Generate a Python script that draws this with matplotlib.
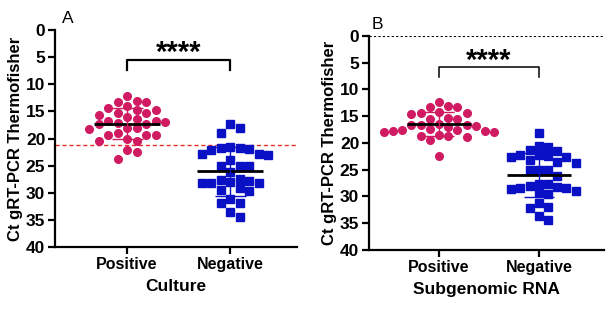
import numpy as np
from matplotlib import pyplot as plt

plt.rcParams['font.family'] = ['Liberation Sans', 'DejaVu Sans']

groups = ["Positive", "Negative"]

# Panel A: Culture
a_positive = [12.2, 13.0, 13.3, 13.3, 14.0, 14.4, 14.7, 14.7, 15.3, 15.3, 15.6, 16.1,
              16.4, 16.7, 16.7, 16.9, 17.2, 17.3, 17.3, 18.0, 18.1, 18.3, 18.9, 19.3,
              19.4, 19.4, 20.0, 20.5, 20.5, 22.1, 22.5, 23.7]
a_negative = [17.3, 18.1, 18.9, 21.5, 21.7, 21.8, 22.0, 22.1, 22.8, 22.8, 23.0, 23.9,
              25.0, 25.0, 25.1, 26.2, 27.5, 27.6, 27.8, 28.0, 28.1, 28.1, 28.2, 29.2,
              29.4, 29.6, 31.1, 31.8, 31.9, 33.5, 34.5]
a_mean = [17.3, 26.0]
a_sd_low = [14.4, 21.5]
a_sd_high = [20.0, 30.5]
a_cutoff = 21.2

# Panel B: Subgenomic RNA
b_positive = [12.3, 13.1, 13.3, 13.3, 14.2, 14.4, 14.4, 14.6, 15.3, 15.5, 15.6, 16.4,
              16.6, 16.6, 16.7, 16.8, 17.0, 17.4, 17.6, 17.6, 17.7, 17.8, 17.9, 18.0,
              18.5, 18.7, 18.8, 18.9, 19.4, 22.4]
b_negative = [18.2, 20.6, 20.7, 21.4, 21.6, 22.2, 22.3, 22.5, 22.6, 22.7, 23.2, 23.5,
              23.8, 25.0, 25.1, 25.1, 26.2, 27.6, 27.7, 28.0, 28.3, 28.5, 28.5, 28.7,
              29.0, 29.4, 29.6, 31.2, 31.9, 32.2, 33.7, 34.4]
b_mean = [16.5, 26.0]
b_sd_low = [14.3, 21.8]
b_sd_high = [18.8, 30.2]

pink = '#d01a62'
blue = '#0a10c4'


def swarm(values, px_per_y, px_per_x, dx, dy):
	# grid-like scatter: a point may share a column only if far enough apart vertically
	order = np.argsort(values)
	placed = []
	offsets = np.zeros(len(values))
	for i in order:
		y = values[i] * px_per_y
		for k in [0, 1, -1, 2, -2, 3, -3, 4, -4, 5, -5, 6, -6]:
			if all(k != pk or abs(y - py) >= dy for pk, py in placed):
				break
		placed.append((k, y))
		offsets[i] = k * dx / px_per_x
	return offsets


def panel(ax, pos, neg, mean, sd_low, sd_high, xlabel, letter, letter_x):
	ax.set_xlim(-0.7, 1.65)
	ax.set_ylim(40, 0)
	px_y = 5.43
	px_x = 102
	for gi, (vals, col, mk) in enumerate([(pos, pink, 'o'), (neg, blue, 's')]):
		vals = np.array(vals)
		off = swarm(vals, px_y, px_x, 9.4, 9.0)
		ax.plot(gi + off, vals, mk, color=col, ms=5.5 if mk == 'o' else 5.1,
				mec=col, zorder=3, clip_on=False)
		ax.hlines(mean[gi], gi - 0.32, gi + 0.32, color='black', lw=2, zorder=4)
		ax.vlines(gi, sd_low[gi], sd_high[gi], color=col, lw=1, zorder=4)
		ax.hlines([sd_low[gi], sd_high[gi]], gi - 0.15, gi + 0.15, color=col, lw=1, zorder=4)
	ax.set_yticks(np.arange(0, 41, 5))
	ax.set_xticks([0, 1])
	ax.set_xticklabels(groups, fontsize=11.5, fontweight='bold')
	for lab in ax.get_yticklabels():
		lab.set_fontsize(12.5)
		lab.set_fontweight('bold')
	ax.set_xlabel(xlabel, fontsize=12.5, fontweight='bold', labelpad=5)
	ax.set_ylabel("Ct gRT-PCR Thermofisher", fontsize=12, fontweight='bold', labelpad=2)
	for s in ['top', 'right']:
		ax.spines[s].set_visible(False)
	for s in ['left', 'bottom']:
		ax.spines[s].set_linewidth(1.6)
	ax.tick_params(width=1.6, length=5, pad=2)
	ax.text(letter_x, 1.02, letter, transform=ax.transAxes, fontsize=12.5, va='bottom')


fig = plt.figure(figsize=(6.08, 3.12), dpi=100)
ax1 = fig.add_axes([0.0905, 0.208, 0.398, 0.696])
ax2 = fig.add_axes([0.607, 0.199, 0.386, 0.686])

panel(ax1, a_positive, a_negative, a_mean, a_sd_low, a_sd_high, "Culture", "A", 0.03)
ax1.axhline(a_cutoff, color='#e8312a', lw=1, ls=(0, (3, 2)), zorder=2)
ax1.plot([0, 0, 1, 1], [7.4, 5.5, 5.5, 7.4], color='black', lw=1.6)
ax1.text(0.5, 4.2, "****", ha='center', va='center', fontsize=21, fontweight='bold')

panel(ax2, b_positive, b_negative, b_mean, b_sd_low, b_sd_high, "Subgenomic RNA", "B", 0.01)
ax2.axhline(0, color='black', lw=0.8, ls=(0, (2, 2)), zorder=2)
ax2.plot([0, 0, 1, 1], [7.7, 5.8, 5.8, 7.7], color='black', lw=1.1)
ax2.text(0.5, 4.6, "****", ha='center', va='center', fontsize=21, fontweight='bold')

fig.savefig("out.png", dpi=100)
